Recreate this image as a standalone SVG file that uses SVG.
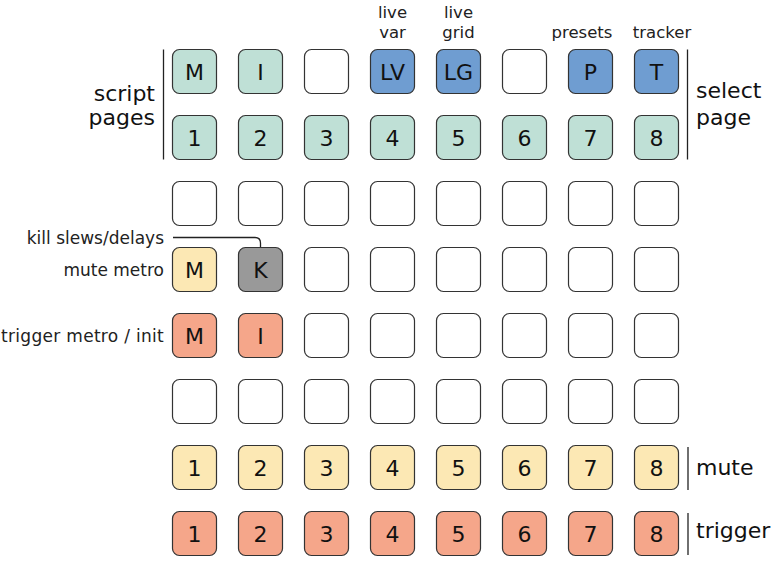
<svg xmlns="http://www.w3.org/2000/svg" width="778" height="566" viewBox="0 0 778 566">
<style>
.b{stroke:#333;stroke-width:1.2}
.w{fill:#ffffff}
.t{fill:#bfe0d6}
.bl{fill:#6f9dd1}
.y{fill:#fce8b4}
.s{fill:#f5a68a}
.g{fill:#999999}
.k{font-family:"DejaVu Sans",Verdana,sans-serif;font-size:22px;fill:#111;text-anchor:middle}
.lab{font-family:"DejaVu Sans",Verdana,sans-serif;font-size:16.5px;fill:#222}
.lab2{font-family:"DejaVu Sans",Verdana,sans-serif;font-size:17px;fill:#222;text-anchor:end}
.big{font-family:"DejaVu Sans",Verdana,sans-serif;font-size:22px;fill:#111}
.ln{stroke:#222;stroke-width:1.3;fill:none}
</style>
<defs>
<rect id="r" width="44" height="44" rx="7" ry="7"/>
</defs>
<rect width="778" height="566" fill="#ffffff"/>

<g id="labels">
<text class="lab" x="392.5" y="18" text-anchor="middle">live</text>
<text class="lab" x="392.5" y="37.5" text-anchor="middle">var</text>
<text class="lab" x="458.5" y="18" text-anchor="middle">live</text>
<text class="lab" x="458.5" y="37.5" text-anchor="middle">grid</text>
<text class="lab" x="582" y="37.5" text-anchor="middle">presets</text>
<text class="lab" x="662" y="37.5" text-anchor="middle">tracker</text>
<text class="big" x="155" y="100.5" text-anchor="end">script</text>
<text class="big" x="155" y="125" text-anchor="end">pages</text>
<text class="big" x="696" y="98">select</text>
<text class="big" x="696" y="125">page</text>
<text class="lab2" x="164" y="244">kill slews/delays</text>
<text class="lab2" x="164" y="275.5">mute metro</text>
<text class="lab2" x="164" y="341.5" letter-spacing="0.3">trigger metro / init</text>
<text class="big" x="696" y="475">mute</text>
<text class="big" x="696" y="538">trigger</text>
</g>

<g id="connectors">
<line class="ln" x1="163.5" y1="49.5" x2="163.5" y2="159.5"/>
<line class="ln" x1="687.5" y1="49.5" x2="687.5" y2="159.5"/>
<line class="ln" x1="688" y1="447" x2="688" y2="490"/>
<line class="ln" x1="688" y1="513" x2="688" y2="555"/>
<path class="ln" d="M173 237.5 H255 Q260.5 237.5 260.5 243 V247.5"/>
</g>

<g id="row0">
<g id="n-r0c0"><use href="#r" x="172.5" y="49.5" class="b t"/><text class="k" x="194.5" y="79.5">M</text></g>
<g id="n-r0c1"><use href="#r" x="238.5" y="49.5" class="b t"/><text class="k" x="260.5" y="79.5">I</text></g>
<g id="n-r0c2"><use href="#r" x="304.5" y="49.5" class="b w"/></g>
<g id="n-r0c3"><use href="#r" x="370.5" y="49.5" class="b bl"/><text class="k" x="392.5" y="79.5">LV</text></g>
<g id="n-r0c4"><use href="#r" x="436.5" y="49.5" class="b bl"/><text class="k" x="458.5" y="79.5">LG</text></g>
<g id="n-r0c5"><use href="#r" x="502.5" y="49.5" class="b w"/></g>
<g id="n-r0c6"><use href="#r" x="568.5" y="49.5" class="b bl"/><text class="k" x="590.5" y="79.5">P</text></g>
<g id="n-r0c7"><use href="#r" x="634.5" y="49.5" class="b bl"/><text class="k" x="656.5" y="79.5">T</text></g>
</g>

<g id="row1">
<g id="n-r1c0"><use href="#r" x="172.5" y="115.5" class="b t"/><text class="k" x="194.5" y="145.5">1</text></g>
<g id="n-r1c1"><use href="#r" x="238.5" y="115.5" class="b t"/><text class="k" x="260.5" y="145.5">2</text></g>
<g id="n-r1c2"><use href="#r" x="304.5" y="115.5" class="b t"/><text class="k" x="326.5" y="145.5">3</text></g>
<g id="n-r1c3"><use href="#r" x="370.5" y="115.5" class="b t"/><text class="k" x="392.5" y="145.5">4</text></g>
<g id="n-r1c4"><use href="#r" x="436.5" y="115.5" class="b t"/><text class="k" x="458.5" y="145.5">5</text></g>
<g id="n-r1c5"><use href="#r" x="502.5" y="115.5" class="b t"/><text class="k" x="524.5" y="145.5">6</text></g>
<g id="n-r1c6"><use href="#r" x="568.5" y="115.5" class="b t"/><text class="k" x="590.5" y="145.5">7</text></g>
<g id="n-r1c7"><use href="#r" x="634.5" y="115.5" class="b t"/><text class="k" x="656.5" y="145.5">8</text></g>
</g>

<g id="row2">
<g id="n-r2c0"><use href="#r" x="172.5" y="181.5" class="b w"/></g>
<g id="n-r2c1"><use href="#r" x="238.5" y="181.5" class="b w"/></g>
<g id="n-r2c2"><use href="#r" x="304.5" y="181.5" class="b w"/></g>
<g id="n-r2c3"><use href="#r" x="370.5" y="181.5" class="b w"/></g>
<g id="n-r2c4"><use href="#r" x="436.5" y="181.5" class="b w"/></g>
<g id="n-r2c5"><use href="#r" x="502.5" y="181.5" class="b w"/></g>
<g id="n-r2c6"><use href="#r" x="568.5" y="181.5" class="b w"/></g>
<g id="n-r2c7"><use href="#r" x="634.5" y="181.5" class="b w"/></g>
</g>

<g id="row3">
<g id="n-r3c0"><use href="#r" x="172.5" y="247.5" class="b y"/><text class="k" x="194.5" y="277.5">M</text></g>
<g id="n-r3c1"><use href="#r" x="238.5" y="247.5" class="b g"/><text class="k" x="260.5" y="277.5">K</text></g>
<g id="n-r3c2"><use href="#r" x="304.5" y="247.5" class="b w"/></g>
<g id="n-r3c3"><use href="#r" x="370.5" y="247.5" class="b w"/></g>
<g id="n-r3c4"><use href="#r" x="436.5" y="247.5" class="b w"/></g>
<g id="n-r3c5"><use href="#r" x="502.5" y="247.5" class="b w"/></g>
<g id="n-r3c6"><use href="#r" x="568.5" y="247.5" class="b w"/></g>
<g id="n-r3c7"><use href="#r" x="634.5" y="247.5" class="b w"/></g>
</g>

<g id="row4">
<g id="n-r4c0"><use href="#r" x="172.5" y="313.5" class="b s"/><text class="k" x="194.5" y="343.5">M</text></g>
<g id="n-r4c1"><use href="#r" x="238.5" y="313.5" class="b s"/><text class="k" x="260.5" y="343.5">I</text></g>
<g id="n-r4c2"><use href="#r" x="304.5" y="313.5" class="b w"/></g>
<g id="n-r4c3"><use href="#r" x="370.5" y="313.5" class="b w"/></g>
<g id="n-r4c4"><use href="#r" x="436.5" y="313.5" class="b w"/></g>
<g id="n-r4c5"><use href="#r" x="502.5" y="313.5" class="b w"/></g>
<g id="n-r4c6"><use href="#r" x="568.5" y="313.5" class="b w"/></g>
<g id="n-r4c7"><use href="#r" x="634.5" y="313.5" class="b w"/></g>
</g>

<g id="row5">
<g id="n-r5c0"><use href="#r" x="172.5" y="379.5" class="b w"/></g>
<g id="n-r5c1"><use href="#r" x="238.5" y="379.5" class="b w"/></g>
<g id="n-r5c2"><use href="#r" x="304.5" y="379.5" class="b w"/></g>
<g id="n-r5c3"><use href="#r" x="370.5" y="379.5" class="b w"/></g>
<g id="n-r5c4"><use href="#r" x="436.5" y="379.5" class="b w"/></g>
<g id="n-r5c5"><use href="#r" x="502.5" y="379.5" class="b w"/></g>
<g id="n-r5c6"><use href="#r" x="568.5" y="379.5" class="b w"/></g>
<g id="n-r5c7"><use href="#r" x="634.5" y="379.5" class="b w"/></g>
</g>

<g id="row6">
<g id="n-r6c0"><use href="#r" x="172.5" y="445.5" class="b y"/><text class="k" x="194.5" y="475.5">1</text></g>
<g id="n-r6c1"><use href="#r" x="238.5" y="445.5" class="b y"/><text class="k" x="260.5" y="475.5">2</text></g>
<g id="n-r6c2"><use href="#r" x="304.5" y="445.5" class="b y"/><text class="k" x="326.5" y="475.5">3</text></g>
<g id="n-r6c3"><use href="#r" x="370.5" y="445.5" class="b y"/><text class="k" x="392.5" y="475.5">4</text></g>
<g id="n-r6c4"><use href="#r" x="436.5" y="445.5" class="b y"/><text class="k" x="458.5" y="475.5">5</text></g>
<g id="n-r6c5"><use href="#r" x="502.5" y="445.5" class="b y"/><text class="k" x="524.5" y="475.5">6</text></g>
<g id="n-r6c6"><use href="#r" x="568.5" y="445.5" class="b y"/><text class="k" x="590.5" y="475.5">7</text></g>
<g id="n-r6c7"><use href="#r" x="634.5" y="445.5" class="b y"/><text class="k" x="656.5" y="475.5">8</text></g>
</g>

<g id="row7">
<g id="n-r7c0"><use href="#r" x="172.5" y="511.5" class="b s"/><text class="k" x="194.5" y="541.5">1</text></g>
<g id="n-r7c1"><use href="#r" x="238.5" y="511.5" class="b s"/><text class="k" x="260.5" y="541.5">2</text></g>
<g id="n-r7c2"><use href="#r" x="304.5" y="511.5" class="b s"/><text class="k" x="326.5" y="541.5">3</text></g>
<g id="n-r7c3"><use href="#r" x="370.5" y="511.5" class="b s"/><text class="k" x="392.5" y="541.5">4</text></g>
<g id="n-r7c4"><use href="#r" x="436.5" y="511.5" class="b s"/><text class="k" x="458.5" y="541.5">5</text></g>
<g id="n-r7c5"><use href="#r" x="502.5" y="511.5" class="b s"/><text class="k" x="524.5" y="541.5">6</text></g>
<g id="n-r7c6"><use href="#r" x="568.5" y="511.5" class="b s"/><text class="k" x="590.5" y="541.5">7</text></g>
<g id="n-r7c7"><use href="#r" x="634.5" y="511.5" class="b s"/><text class="k" x="656.5" y="541.5">8</text></g>
</g>
</svg>
